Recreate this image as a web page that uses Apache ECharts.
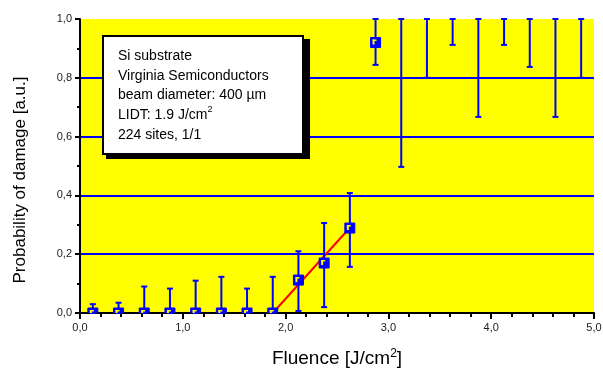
<!DOCTYPE html>
<html>
<head>
<meta charset="utf-8">
<script src="https://cdn.jsdelivr.net/npm/echarts@6/dist/echarts.min.js"></script>
<style>html,body{margin:0;padding:0;background:#fff;}#c{width:603px;height:371px;}</style>
</head>
<body>
<div id="c"></div>
<script>
// Data
var fluence = [0.125, 0.375, 0.625, 0.875, 1.125, 1.375, 1.625, 1.875, 2.125, 2.375,
               2.625, 2.875, 3.125, 3.375, 3.625, 3.875, 4.125, 4.375, 4.625, 4.875];
var probability = [0, 0, 0, 0, 0, 0, 0, 0, 0.112, 0.17,
                   0.289, 0.92, 1, 1, 1, 1, 1, 1, 1, 1];
var errLow = [0, 0, 0, 0, 0, 0, 0, 0, 0.007, 0.02,
              0.157, 0.844, 0.497, 0.80, 0.912, 0.667, 0.912, 0.837, 0.667, 0.80];
var errHigh = [0.03, 0.035, 0.09, 0.083, 0.11, 0.123, 0.083, 0.123, 0.21, 0.306,
               0.408, 1, 1, 1, 1, 1, 1, 1, 1, 1];
var fitX = [1.875, 2.625];
var fitY = [0, 0.29];
var xTicks = [0, 1, 2, 3, 4, 5];
var yTicks = [0, 0.2, 0.4, 0.6, 0.8, 1.0];
var infoLines = ['Si substrate', 'Virginia Semiconductors', 'beam diameter: 400 µm', 'LIDT: 1.9 J/cm{sup|2}', '224 sites, 1/1'];
var xTitle = 'Fluence [J/cm{sup|2}]';
var yTitle = 'Probability of damage [a.u.]';

var FONT = 'Liberation Sans, Arial, sans-serif';
var BLUE = '#0000ff';
function fmt(v) { return v.toFixed(1).replace('.', ','); }

var errData = fluence.map(function (x, i) { return [x, errLow[i], errHigh[i]]; });
// points plotted at 1.0 sit off the visible plot top in the reference; markers shown for values below 1
var markerData = [];
fluence.forEach(function (x, i) { if (probability[i] < 1) markerData.push([x, probability[i]]); });
var fitData = fitX.map(function (x, i) { return [x, fitY[i]]; });

var chart = echarts.init(document.getElementById('c'), null, { renderer: 'canvas' });
chart.setOption({
  animation: false,
  backgroundColor: '#ffffff',
  grid: { left: 80, right: 9, top: 19, bottom: 58, show: true, backgroundColor: '#ffff00', borderWidth: 0,
    containLabel: false, outerBoundsMode: 'none' },
  xAxis: {
    type: 'value', min: xTicks[0], max: xTicks[xTicks.length - 1], interval: 1,
    name: xTitle, nameLocation: 'middle', nameGap: 35,
    nameTextStyle: { fontFamily: FONT, fontSize: 19, color: '#000',
      rich: { sup: { fontFamily: FONT, fontSize: 12, verticalAlign: 'top', padding: [0, 0, 9, 0], color: '#000' } } },
    axisLine: { show: true, onZero: false, lineStyle: { color: '#000', width: 2 } },
    axisTick: { show: true, inside: false, length: 6, lineStyle: { color: '#000', width: 2 } },
    minorTick: { show: true, splitNumber: 5, length: 4, lineStyle: { color: '#000', width: 2 } },
    axisLabel: { formatter: fmt, fontFamily: FONT, fontSize: 11, color: '#222', margin: 9 },
    splitLine: { show: false }
  },
  yAxis: {
    type: 'value', min: yTicks[0], max: yTicks[yTicks.length - 1], interval: 0.2,
    axisLine: { show: true, onZero: false, lineStyle: { color: '#000', width: 2 } },
    axisTick: { show: true, inside: false, length: 5, lineStyle: { color: '#000', width: 2 } },
    minorTick: { show: true, splitNumber: 2, length: 3, lineStyle: { color: '#000', width: 2 } },
    axisLabel: { formatter: fmt, fontFamily: FONT, fontSize: 11, color: '#222', margin: 8 },
    splitLine: { show: true, showMaxLine: false, showMinLine: false, lineStyle: { color: BLUE, width: 2 } }
  },
  series: [
    {
      type: 'line', data: fitData, symbol: 'none', z: 3,
      lineStyle: { color: '#ff0000', width: 2 }
    },
    {
      type: 'custom', data: errData, z: 4, clip: false,
      renderItem: function (params, api) {
        var x = api.value(0);
        var lo = api.coord([x, api.value(1)]);
        var hi = api.coord([x, api.value(2)]);
        var st = { stroke: BLUE, lineWidth: 2 };
        return { type: 'group', children: [
          { type: 'line', shape: { x1: lo[0], y1: lo[1], x2: hi[0], y2: hi[1] }, style: st },
          { type: 'line', shape: { x1: lo[0] - 3, y1: lo[1], x2: lo[0] + 3, y2: lo[1] }, style: st },
          { type: 'line', shape: { x1: hi[0] - 3, y1: hi[1], x2: hi[0] + 3, y2: hi[1] }, style: st }
        ]};
      }
    },
    {
      type: 'custom', data: markerData, z: 5, clip: true,
      renderItem: function (params, api) {
        var p = api.coord([api.value(0), api.value(1)]);
        return { type: 'group', children: [
          { type: 'rect', shape: { x: p[0] - 5, y: p[1] - 5, width: 10, height: 10 },
            style: { fill: BLUE, stroke: BLUE, lineWidth: 1 } },
          { type: 'rect', shape: { x: p[0] - 3, y: p[1] - 3, width: 2, height: 5 },
            style: { fill: '#ffff00' } },
          { type: 'rect', shape: { x: p[0] - 3, y: p[1] - 3, width: 4, height: 1.5 },
            style: { fill: '#ffff00' } }
        ]};
      }
    }
  ],
  graphic: [
    { type: 'text', z: 50, x: 20, y: 180, rotation: Math.PI / 2,
      style: { text: yTitle, fill: '#000', font: '17px ' + FONT, align: 'center', verticalAlign: 'middle' } },
    { type: 'rect', z: 100, shape: { x: 106, y: 39, width: 204, height: 120 },
      style: { fill: '#000' } },
    { type: 'rect', z: 101, shape: { x: 103, y: 36, width: 200, height: 118 },
      style: { fill: '#fff', stroke: '#000', lineWidth: 2 } },
    { type: 'text', z: 102, left: 118, top: 46,
      style: { text: infoLines.join('\n'), fill: '#000', font: '14px ' + FONT, lineHeight: 19.8,
        rich: { sup: { font: '9px ' + FONT, verticalAlign: 'top', fill: '#000', padding: [0, 0, 6, 0] } } } }
  ]
});
</script>
</body>
</html>
